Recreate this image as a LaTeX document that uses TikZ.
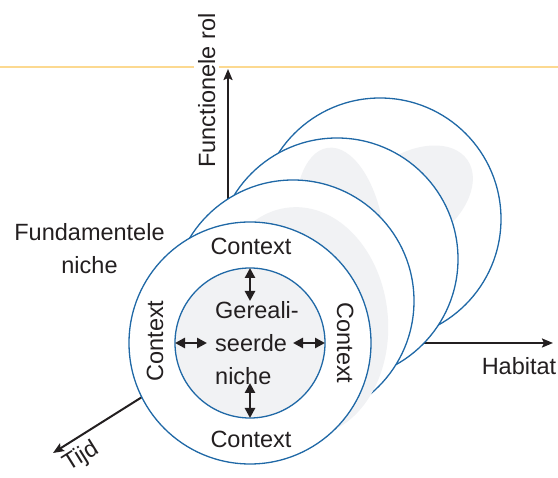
\documentclass[tikz,border=0pt]{standalone}
\usepackage{fontspec}
\setmainfont{Liberation Sans}
\usetikzlibrary{arrows.meta}
\definecolor{nicheblue}{HTML}{1F68A6}
\definecolor{nichegrey}{HTML}{F1F2F4}
\definecolor{inkdark}{HTML}{231F20}
\definecolor{rulegold}{HTML}{FCD990}
\begin{document}
\begin{tikzpicture}[x=1pt,y=-1pt,
  lbl/.style={font=\fontsize{23.5}{33}\selectfont, text=inkdark, inner sep=0pt},
  nichering/.style={circle, draw=nicheblue, line width=1.3pt, fill=white, minimum size=242pt, inner sep=0pt, outer sep=0pt},
  innerdisc/.style={circle, draw=nicheblue, line width=1.3pt, fill=nichegrey, minimum size=150pt, inner sep=0pt, outer sep=0pt},
  blob/.style={fill=nichegrey},
  axisline/.style={draw=inkdark, line width=2pt, -{Stealth[length=11pt,width=9pt,inset=2pt]}},
  dblarrow/.style={draw=inkdark, line width=2.8pt, {Triangle[length=10pt,width=10pt]}-{Triangle[length=10pt,width=10pt]}}
]
\useasboundingbox (0,0) rectangle (558,478);
% gold rule
\coordinate (rl) at (0,67);
\coordinate (rr) at (558,67);
\draw[rulegold, line width=1.2pt] (rl) -- (rr);
% axes
\coordinate (O) at (228,343);
\coordinate (Fend) at (228,69);
\coordinate (Hend) at (553,343);
\coordinate (Tend) at (53,453);
\draw[axisline] (O) -- (Fend);
\draw[axisline] (O) -- (Hend);
\draw[axisline] (O) -- (Tend);
\node[lbl, rotate=90, anchor=base, fill=white, inner sep=4pt] (flabel) at (215,90.5) {Functionele rol};
\node[lbl, anchor=base] (hlabel) at (519,375) {Habitat};
\node[lbl, rotate=32, anchor=center] (tlabel) at (81,457) {Tijd};
% niches back to front
\node[nichering] (n4) at (380,219) {};
\begin{scope}[shift={(410,200)}, rotate=35]
  \fill[blob] (0,0) ellipse [x radius=70, y radius=45];
\end{scope}
\node[nichering] (n3) at (337,259) {};
\begin{scope}[shift={(340,235)}, rotate=8]
  \fill[blob] (0,0) ellipse [x radius=44, y radius=88];
\end{scope}
\node[nichering] (n2) at (293,301) {};
\begin{scope}[shift={(300,322)}, rotate=5]
  \fill[blob] (0,0) ellipse [x radius=88, y radius=115];
\end{scope}
\node[nichering] (n1) at (250,343) {};
\node[innerdisc] (gen) at (250,343) {};
% texts
\node[lbl, anchor=west, align=left] (gentext) at (215,343) {Gereali-\\seerde\\niche};
\node[lbl, anchor=base] (ctop) at (251,255) {Context};
\node[lbl, anchor=base] (cbot) at (251,448) {Context};
\node[lbl, anchor=base, rotate=90] (cleft) at (163,341) {Context};
\node[lbl, anchor=base, rotate=-90] (cright) at (337,343) {Context};
\node[lbl, align=center] (fund) at (89.5,248.3) {Fundamentele\\niche};
% double arrows
\coordinate (an) at (250,301);
\coordinate (as) at (250,383);
\coordinate (aw) at (207,343);
\coordinate (ae) at (293,343);
\draw[dblarrow] (gen.north) -- (an);
\draw[dblarrow] (gen.south) -- (as);
\draw[dblarrow] (gen.west) -- (aw);
\draw[dblarrow] (gen.east) -- (ae);
\end{tikzpicture}
\end{document}
